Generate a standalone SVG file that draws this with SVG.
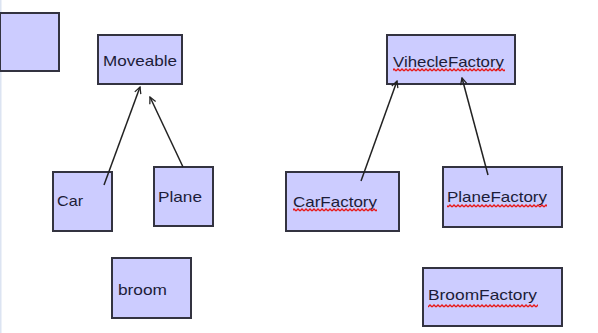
<svg xmlns="http://www.w3.org/2000/svg" width="598" height="333" viewBox="0 0 598 333">
  <style>
    .box { fill: #ccccff; stroke: #333340; stroke-width: 2; }
    .lbl { font-family: "Liberation Sans", Arial, sans-serif; font-size: 15px; fill: #1c1c38; }
    .edge { stroke: #222; stroke-width: 1.5; fill: none; marker-end: url(#open); }
    .squig { fill: url(#wave); }
  </style>
  <defs>
    <marker id="open" viewBox="0 0 10 10" refX="9" refY="5" markerWidth="8" markerHeight="8" markerUnits="userSpaceOnUse" orient="auto">
      <path d="M1,1 L9,5 L1,9" fill="none" stroke="#222" stroke-width="1.6"/>
    </marker>
    <pattern id="wave" width="4" height="4" patternUnits="userSpaceOnUse">
      <path d="M0,3 L2,1 L4,3" fill="none" stroke="#e81818" stroke-width="1.3"/>
    </pattern>
  </defs>

  <rect width="598" height="333" fill="#ffffff"/>
  <rect x="0" y="0" width="1.5" height="333" fill="#dce4f2"/>

  <g id="blank">
    <rect class="box" x="0" y="13" width="59" height="58"/>
  </g>

  <g id="moveable">
    <rect class="box" x="98" y="35" width="84" height="49"/>
    <text class="lbl" x="103" y="66" textLength="74" lengthAdjust="spacingAndGlyphs">Moveable</text>
  </g>

  <g id="car">
    <rect class="box" x="53" y="172" width="59" height="59"/>
    <text class="lbl" x="57" y="206" textLength="26" lengthAdjust="spacingAndGlyphs">Car</text>
  </g>

  <g id="plane">
    <rect class="box" x="154" y="167" width="59" height="59"/>
    <text class="lbl" x="158" y="202" textLength="44" lengthAdjust="spacingAndGlyphs">Plane</text>
  </g>

  <g id="broom">
    <rect class="box" x="112" y="258" width="79" height="60"/>
    <text class="lbl" x="118" y="295" textLength="49" lengthAdjust="spacingAndGlyphs">broom</text>
  </g>

  <g id="vihecleFactory">
    <rect class="box" x="387" y="35" width="128" height="49"/>
    <text class="lbl" x="393" y="67" textLength="111" lengthAdjust="spacingAndGlyphs">VihecleFactory</text>
    <rect class="squig" x="393" y="68" width="112" height="4"/>
  </g>

  <g id="carFactory">
    <rect class="box" x="286" y="172" width="113" height="59"/>
    <text class="lbl" x="293" y="207" textLength="84" lengthAdjust="spacingAndGlyphs">CarFactory</text>
    <rect class="squig" x="293" y="208" width="84" height="4"/>
  </g>

  <g id="planeFactory">
    <rect class="box" x="443" y="167" width="119" height="60"/>
    <text class="lbl" x="447" y="202" textLength="100" lengthAdjust="spacingAndGlyphs">PlaneFactory</text>
    <rect class="squig" x="447" y="204" width="100" height="4"/>
  </g>

  <g id="broomFactory">
    <rect class="box" x="423" y="268" width="139" height="58"/>
    <text class="lbl" x="428" y="300" textLength="109" lengthAdjust="spacingAndGlyphs">BroomFactory</text>
    <rect class="squig" x="428" y="304" width="110" height="4"/>
  </g>

  <g id="connectors">
    <line class="edge" x1="104" y1="185" x2="140" y2="87"/>
    <line class="edge" x1="183" y1="167" x2="150" y2="97"/>
    <line class="edge" x1="361" y1="181" x2="397" y2="81"/>
    <line class="edge" x1="488" y1="175" x2="462" y2="78"/>
  </g>
</svg>
